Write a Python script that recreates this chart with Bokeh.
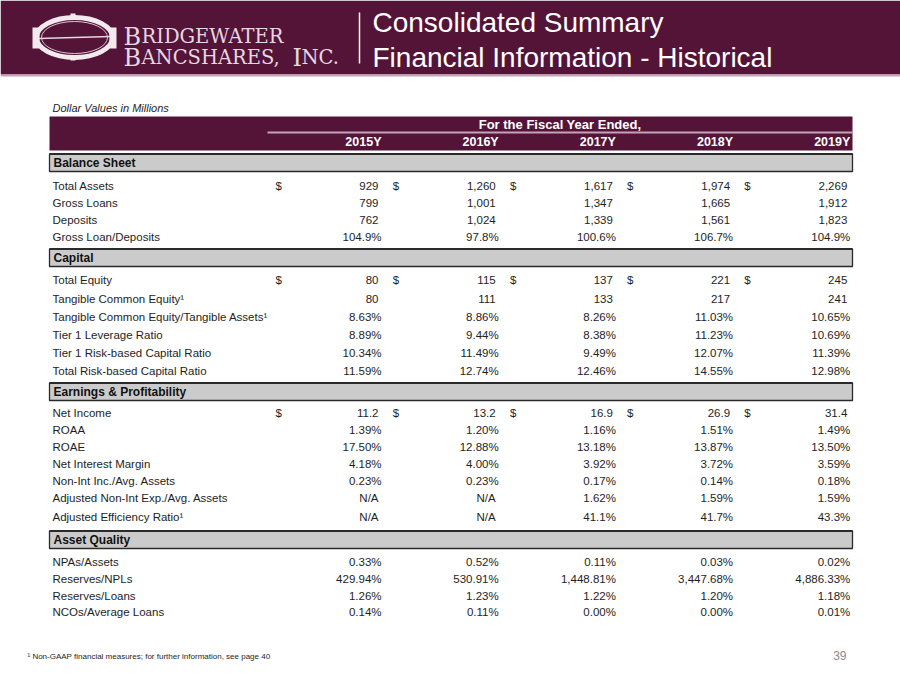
from bokeh.plotting import figure
from bokeh.models import Range1d, ColumnDataSource
from bokeh.core.properties import value
from bokeh.embed import file_html
from bokeh.resources import INLINE

# ---------------- data ----------------
years = ["2015Y", "2016Y", "2017Y", "2018Y", "2019Y"]

total_assets = [929, 1260, 1617, 1974, 2269]
gross_loans = [799, 1001, 1347, 1665, 1912]
deposits = [762, 1024, 1339, 1561, 1823]
gross_loan_deposits = [104.9, 97.8, 100.6, 106.7, 104.9]

total_equity = [80, 115, 137, 221, 245]
tangible_common_equity = [80, 111, 133, 217, 241]
tce_ta = [8.63, 8.86, 8.26, 11.03, 10.65]
tier1_leverage = [8.89, 9.44, 8.38, 11.23, 10.69]
tier1_rbc = [10.34, 11.49, 9.49, 12.07, 11.39]
total_rbc = [11.59, 12.74, 12.46, 14.55, 12.98]

net_income = [11.2, 13.2, 16.9, 26.9, 31.4]
roaa = [1.39, 1.20, 1.16, 1.51, 1.49]
roae = [17.50, 12.88, 13.18, 13.87, 13.50]
nim = [4.18, 4.00, 3.92, 3.72, 3.59]
nonint_inc_assets = [0.23, 0.23, 0.17, 0.14, 0.18]
adj_nonint_exp_assets = [None, None, 1.62, 1.59, 1.59]
adj_efficiency = [None, None, 41.1, 41.7, 43.3]

npas_assets = [0.33, 0.52, 0.11, 0.03, 0.02]
reserves_npls = [429.94, 530.91, 1448.81, 3447.68, 4886.33]
reserves_loans = [1.26, 1.23, 1.22, 1.20, 1.18]
ncos_loans = [0.14, 0.11, 0.00, 0.00, 0.01]

section_names = ["Balance Sheet", "Capital", "Earnings & Profitability", "Asset Quality"]

balance_labels = ["Total Assets", "Gross Loans", "Deposits", "Gross Loan/Deposits"]
capital_labels = ["Total Equity", "Tangible Common Equity\u00b9",
                  "Tangible Common Equity/Tangible Assets\u00b9", "Tier 1 Leverage Ratio",
                  "Tier 1 Risk-based Capital Ratio", "Total Risk-based Capital Ratio"]
earnings_labels = ["Net Income", "ROAA", "ROAE", "Net Interest Margin",
                   "Non-Int Inc./Avg. Assets", "Adjusted Non-Int Exp./Avg. Assets",
                   "Adjusted Efficiency Ratio\u00b9"]
quality_labels = ["NPAs/Assets", "Reserves/NPLs", "Reserves/Loans", "NCOs/Average Loans"]

# (values, format kind, dollar sign)
balance_rows = [(total_assets, "int", True), (gross_loans, "int", False),
                (deposits, "int", False), (gross_loan_deposits, "pct1", False)]
capital_rows = [(total_equity, "int", True), (tangible_common_equity, "int", False),
                (tce_ta, "pct2", False), (tier1_leverage, "pct2", False),
                (tier1_rbc, "pct2", False), (total_rbc, "pct2", False)]
earnings_rows = [(net_income, "dec1", True), (roaa, "pct2", False), (roae, "pct2", False),
                 (nim, "pct2", False), (nonint_inc_assets, "pct2", False),
                 (adj_nonint_exp_assets, "pct2", False), (adj_efficiency, "pct1", False)]
quality_rows = [(npas_assets, "pct2", False), (reserves_npls, "pct2", False),
                (reserves_loans, "pct2", False), (ncos_loans, "pct2", False)]

# ---------------- layout / style ----------------
MAROON = "#541438"
PINK = "#c4a3b8"
GRAY = "#cbcbcb"
TXT = "#1e1e1e"
FONT = "Liberation Sans"
BODY = "11.5px"

TABLE_L, TABLE_R = 49, 852
COL_RIGHT0, COL_STEP = 381, 117.2
section_y = [162, 257, 391, 539]
row_y = [[185, 202, 219, 236],
         [279, 298, 316, 334, 352, 370],
         [412, 429, 446, 463, 480, 497, 516],
         [561, 578, 595, 611]]


def fmt(v, kind):
    if v is None:
        return "N/A"
    if kind == "int":
        return "{:,.0f}".format(v)
    if kind == "dec1":
        return "{:.1f}".format(v)
    if kind == "pct1":
        return "{:.1f}%".format(v)
    return "{:,.2f}%".format(v)


p = figure(width=900, height=675, x_range=Range1d(0, 900), y_range=Range1d(675, 0),
           output_backend="svg", toolbar_location=None, min_border=0,
           x_axis_location=None, y_axis_location=None)
p.grid.visible = False
p.outline_line_color = None
p.background_fill_color = "white"
p.border_fill_color = "white"

# ---- header banner ----
p.quad(left=[0], right=[900], top=[0], bottom=[74], fill_color=MAROON, line_color=None)
p.quad(left=[0], right=[900], top=[74], bottom=[76], fill_color=PINK, line_color=None)

# logo emblem
EMB = "#f2eaef"
p.ellipse(x=[74], y=[37], width=[76], height=[40], fill_color=None,
          line_color=EMB, line_width=5)
p.ellipse(x=[74], y=[37], width=[66], height=[32], fill_color=None,
          line_color="#d8c4d0", line_width=1)
p.segment(x0=[38], y0=[38], x1=[110], y1=[36], line_color="#e6d6e0", line_width=1.5)
p.quad(left=[32, 109], right=[39, 116], top=[27, 27], bottom=[48, 48],
       fill_color=EMB, line_color=None)
p.quad(left=[70, 70], right=[75, 75], top=[13, 55], bottom=[18, 60],
       fill_color=EMB, line_color=None)

LOGO = "#e6d8e1"
SERIF = value("DejaVu Serif")
logo_parts = [(123, 36, "B", "24px"), (141, 36, "RIDGEWATER", "19.5px"),
              (123, 57, "B", "24px"), (141, 57, "ANCSHARES,", "19.5px"),
              (292, 57, "I", "24px"), (301, 57, "NC.", "19.5px")]
for lx, ly, lt, ls in logo_parts:
    p.text(x=[lx], y=[ly], text=[lt], text_font=SERIF, text_font_size=value(ls),
           text_color=LOGO, text_baseline="alphabetic")

p.segment(x0=[359], y0=[12], x1=[359], y1=[63], line_color="white", line_width=1.5)
p.text(x=[372, 372], y=[22, 57],
       text=["Consolidated Summary", "Financial Information - Historical"],
       text_font=value(FONT), text_font_size=value("28px"), text_color="white",
       text_baseline="middle")

# ---- table header ----
p.text(x=[52], y=[107], text=["Dollar Values in Millions"], text_font=value(FONT),
       text_font_size=value("11px"), text_font_style="italic", text_color=TXT,
       text_baseline="middle")
p.quad(left=[TABLE_L], right=[TABLE_R], top=[116], bottom=[150], fill_color=MAROON,
       line_color=None)
p.segment(x0=[267], y0=[132], x1=[TABLE_R], y1=[132], line_color=PINK, line_width=2)
p.text(x=[(267 + TABLE_R) / 2], y=[124], text=["For the Fiscal Year Ended,"],
       text_font=value(FONT), text_font_size=value("13px"), text_font_style="bold",
       text_color="white", text_align="center", text_baseline="middle")
col_right = [COL_RIGHT0 + COL_STEP * i for i in range(len(years))]
p.text(x=col_right, y=[141] * len(years), text=years, text_font=value(FONT),
       text_font_size=value("12.5px"), text_font_style="bold", text_color="white",
       text_align="right", text_baseline="middle")

# ---- sections ----
all_labels = [balance_labels, capital_labels, earnings_labels, quality_labels]
all_rows = [balance_rows, capital_rows, earnings_rows, quality_rows]

lab_x, lab_y, lab_t = [], [], []
val_x, val_y, val_t = [], [], []
dol_x, dol_y = [], []
for s, name in enumerate(section_names):
    yc = section_y[s]
    p.quad(left=[TABLE_L], right=[TABLE_R], top=[yc - 8.5], bottom=[yc + 9],
           fill_color=GRAY, line_color="#2a2a2a", line_width=1.3)
    p.segment(x0=[TABLE_L], y0=[yc - 8.5], x1=[TABLE_R], y1=[yc - 8.5],
              line_color="#2a2a2a", line_width=2)
    p.text(x=[53], y=[yc + 0.5], text=[name], text_font=value(FONT),
           text_font_size=value("12px"), text_font_style="bold", text_color="#111111",
           text_baseline="middle")
    for r, (label, (vals, kind, dollar)) in enumerate(zip(all_labels[s], all_rows[s])):
        y = row_y[s][r]
        lab_x.append(52); lab_y.append(y); lab_t.append(label)
        for i, v in enumerate(vals):
            txt = fmt(v, kind)
            shift = 0 if txt.endswith("%") else 3
            val_x.append(col_right[i] - shift); val_y.append(y); val_t.append(txt)
            if dollar:
                dol_x.append(col_right[i] - 106); dol_y.append(y)

p.text(x="x", y="y", text="t", source=ColumnDataSource(dict(x=lab_x, y=lab_y, t=lab_t)),
       text_font=value(FONT), text_font_size=value(BODY), text_color=TXT,
       text_baseline="middle")
p.text(x="x", y="y", text="t", source=ColumnDataSource(dict(x=val_x, y=val_y, t=val_t)),
       text_font=value(FONT), text_font_size=value(BODY), text_color=TXT,
       text_align="right", text_baseline="middle")
p.text(x=dol_x, y=dol_y, text=["$"] * len(dol_x), text_font=value(FONT),
       text_font_size=value(BODY), text_color=TXT, text_baseline="middle")

# ---- footer ----
p.text(x=[27], y=[656], text=["\u00b9 Non-GAAP financial measures; for further information, see page 40"],
       text_font=value(FONT), text_font_size=value("8px"),
       text_color=TXT, text_baseline="middle")
p.text(x=[846], y=[655], text=["39"], text_font=value(FONT),
       text_font_size=value("12px"), text_color="#8c8c8c", text_align="right",
       text_baseline="middle")

open("out.html", "w").write(file_html(p, INLINE))
